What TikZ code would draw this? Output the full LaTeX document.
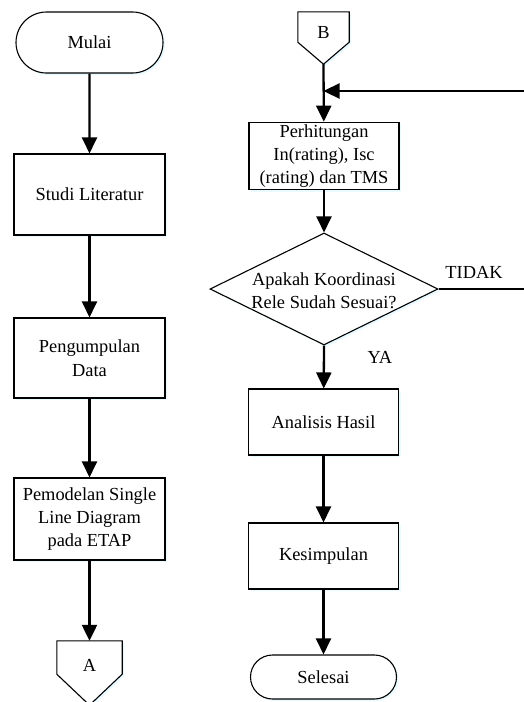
\documentclass[tikz,border=0pt]{standalone}
\usepackage{fontspec}
\setmainfont{Liberation Serif}
\usetikzlibrary{shapes.misc,shapes.geometric,arrows.meta,shadows,calc}
\begin{document}
\begin{tikzpicture}[x=1pt,y=-1pt,
  every node/.style={font=\fontsize{18.4}{23.4}\selectfont},
  sh/.style={drop shadow={shadow xshift=2pt,shadow yshift=-2pt,fill=blue!25!cyan!20,opacity=0.45}},
  procbox/.style={draw,line width=1.1pt,fill=white,sh,rectangle,minimum width=151pt,align=center,inner sep=2pt},
  termbox/.style={draw,line width=1.1pt,fill=white,sh,rounded rectangle,minimum width=151pt,inner sep=2pt},
  decbox/.style={draw,line width=1.1pt,fill=white,sh,diamond,aspect=2.04,minimum width=228pt,minimum height=112pt,inner sep=0pt},
  conbox/.style={rectangle,inner sep=0pt},
  flow/.style={line width=2.3pt,-{Triangle[length=16pt,width=15pt]}},
  plain/.style={line width=2pt},
  lbl/.style={inner sep=0pt}]
\useasboundingbox (0,0) rectangle (524,702);
% left column
\node[termbox,minimum height=61pt] (mulai) at (89.5,42.5) {Mulai};
\node[procbox,minimum height=81pt] (studi) at (89.5,194.5) {Studi Literatur};
\node[procbox,minimum height=80pt] (peng) at (89.5,358) {Pengumpulan\\Data};
\node[procbox,minimum height=82pt] (pemo) at (89.5,519) {Pemodelan Single\\Line Diagram\\pada ETAP};
\node[conbox,minimum width=65pt,minimum height=33pt] (A) at (89.5,657.5) {};
\draw[line width=1.1pt,fill=white,sh] (A.north west) -- (A.north east) -- (A.south east) -- ($(A.south)+(0,31)$) -- (A.south west) -- cycle;
\node[lbl] (Atxt) at (89.5,665) {A};
% right column
\node[conbox,minimum width=51pt,minimum height=30pt] (B) at (323.5,27) {};
\draw[line width=1.1pt,fill=white,sh] (B.north west) -- (B.north east) -- (B.south east) -- ($(B.south)+(0,22)$) coordinate (Btip) -- (B.south west) -- cycle;
\node[lbl] (Btxt) at (323.5,32) {B};
\node[procbox,minimum width=150pt,minimum height=66pt] (perh) at (324,156) {Perhitungan\\In(rating), Isc\\(rating) dan TMS};
\node[decbox] (dia) at (324,289) {};
\node[lbl,align=center] (diatxt) at (324,290.5) {Apakah Koordinasi\\Rele Sudah Sesuai?};
\node[procbox,minimum width=150pt,minimum height=66pt] (anal) at (323.5,422) {Analisis Hasil};
\node[procbox,minimum width=150pt,minimum height=66pt] (kes) at (323.5,556) {Kesimpulan};
\node[termbox,minimum width=150pt,minimum height=44pt] (sel) at (323.5,677) {Selesai};
\node[lbl] (tidak) at (474,272) {TIDAK};
\node[lbl] (ya) at (380,357) {YA};
% connectors
\draw[flow] (mulai) -- (studi);
\draw[flow] (studi) -- (peng);
\draw[flow] (peng) -- (pemo);
\draw[flow] (pemo) -- (A.north);
\draw[flow] (Btip) -- (perh);
\draw[flow] (perh) -- (dia.north);
\draw[flow] (dia.south) -- (anal);
\draw[flow] (anal) -- (kes);
\draw[flow] (kes) -- (sel);
\coordinate (fbJ) at (323.5,91);
\coordinate (fbR) at (530,91);
\coordinate (noR) at (530,289);
\draw[plain] (dia.east) -- (noR) -- (fbR);
\draw[flow] (fbR) -- (fbJ);
\end{tikzpicture}
\end{document}
